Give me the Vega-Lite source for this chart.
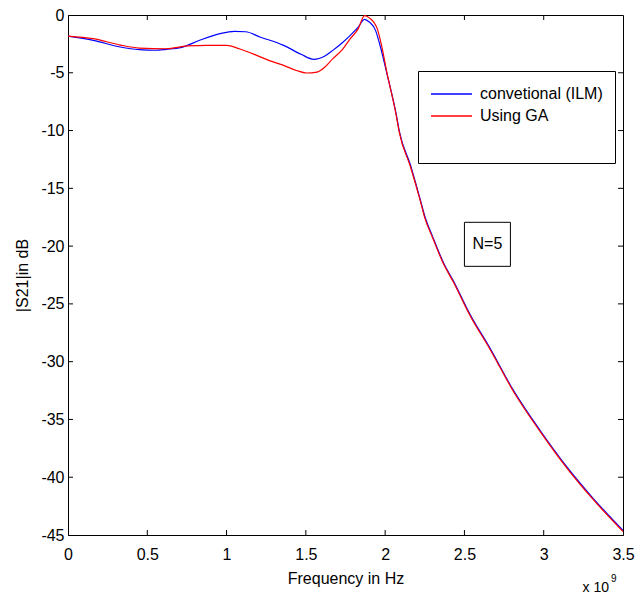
{
  "$schema": "https://vega.github.io/schema/vega-lite/v6.json",
  "autosize": {"type": "none"},
  "padding": {"left": 68, "top": 15, "right": 14, "bottom": 61},
  "width": 555,
  "height": 520,
  "background": "white",
  "config": {
    "font": "Liberation Sans",
    "view": {"stroke": "black", "strokeWidth": 1},
    "axis": {"grid": false, "domainColor": "black", "tickColor": "black", "labelColor": "black", "titleColor": "black", "labelFontSize": 16, "titleFontSize": 16, "titleFontWeight": "normal", "labelFont": "Liberation Sans", "titleFont": "Liberation Sans"}
  },
  "datasets": {
    "curves": [
      {"f": 0, "db": -1.82, "series": "convetional (ILM)"},
      {"f": 0.16, "db": -2.19, "series": "convetional (ILM)"},
      {"f": 0.33, "db": -2.77, "series": "convetional (ILM)"},
      {"f": 0.45, "db": -3.0, "series": "convetional (ILM)"},
      {"f": 0.55, "db": -3.05, "series": "convetional (ILM)"},
      {"f": 0.62, "db": -2.97, "series": "convetional (ILM)"},
      {"f": 0.71, "db": -2.83, "series": "convetional (ILM)"},
      {"f": 0.83, "db": -2.19, "series": "convetional (ILM)"},
      {"f": 0.96, "db": -1.61, "series": "convetional (ILM)"},
      {"f": 1.05, "db": -1.42, "series": "convetional (ILM)"},
      {"f": 1.12, "db": -1.45, "series": "convetional (ILM)"},
      {"f": 1.21, "db": -1.9, "series": "convetional (ILM)"},
      {"f": 1.36, "db": -2.63, "series": "convetional (ILM)"},
      {"f": 1.47, "db": -3.4, "series": "convetional (ILM)"},
      {"f": 1.55, "db": -3.84, "series": "convetional (ILM)"},
      {"f": 1.62, "db": -3.55, "series": "convetional (ILM)"},
      {"f": 1.67, "db": -3.06, "series": "convetional (ILM)"},
      {"f": 1.73, "db": -2.4, "series": "convetional (ILM)"},
      {"f": 1.78, "db": -1.76, "series": "convetional (ILM)"},
      {"f": 1.83, "db": -1.05, "series": "convetional (ILM)"},
      {"f": 1.87, "db": -0.37, "series": "convetional (ILM)"},
      {"f": 1.9, "db": -0.6, "series": "convetional (ILM)"},
      {"f": 1.94, "db": -1.35, "series": "convetional (ILM)"},
      {"f": 1.97, "db": -2.75, "series": "convetional (ILM)"},
      {"f": 2.01, "db": -5.0, "series": "convetional (ILM)"},
      {"f": 2.07, "db": -8.6, "series": "convetional (ILM)"},
      {"f": 2.09, "db": -10.1, "series": "convetional (ILM)"},
      {"f": 2.16, "db": -13.0, "series": "convetional (ILM)"},
      {"f": 2.22, "db": -15.9, "series": "convetional (ILM)"},
      {"f": 2.25, "db": -17.4, "series": "convetional (ILM)"},
      {"f": 2.3, "db": -19.2, "series": "convetional (ILM)"},
      {"f": 2.37, "db": -21.5, "series": "convetional (ILM)"},
      {"f": 2.43, "db": -23.0, "series": "convetional (ILM)"},
      {"f": 2.535, "db": -25.9, "series": "convetional (ILM)"},
      {"f": 2.66, "db": -28.8, "series": "convetional (ILM)"},
      {"f": 2.81, "db": -32.5, "series": "convetional (ILM)"},
      {"f": 2.98, "db": -36.0, "series": "convetional (ILM)"},
      {"f": 3.14, "db": -39.0, "series": "convetional (ILM)"},
      {"f": 3.31, "db": -41.8, "series": "convetional (ILM)"},
      {"f": 3.5, "db": -44.6, "series": "convetional (ILM)"},
      {"f": 0, "db": -1.82, "series": "Using GA"},
      {"f": 0.16, "db": -2.05, "series": "Using GA"},
      {"f": 0.33, "db": -2.6, "series": "Using GA"},
      {"f": 0.45, "db": -2.86, "series": "Using GA"},
      {"f": 0.62, "db": -2.92, "series": "Using GA"},
      {"f": 0.75, "db": -2.68, "series": "Using GA"},
      {"f": 0.88, "db": -2.63, "series": "Using GA"},
      {"f": 1.0, "db": -2.63, "series": "Using GA"},
      {"f": 1.08, "db": -2.92, "series": "Using GA"},
      {"f": 1.19, "db": -3.49, "series": "Using GA"},
      {"f": 1.27, "db": -3.95, "series": "Using GA"},
      {"f": 1.36, "db": -4.36, "series": "Using GA"},
      {"f": 1.44, "db": -4.8, "series": "Using GA"},
      {"f": 1.505, "db": -5.02, "series": "Using GA"},
      {"f": 1.57, "db": -4.94, "series": "Using GA"},
      {"f": 1.62, "db": -4.5, "series": "Using GA"},
      {"f": 1.67, "db": -3.78, "series": "Using GA"},
      {"f": 1.73, "db": -3.0, "series": "Using GA"},
      {"f": 1.78, "db": -2.05, "series": "Using GA"},
      {"f": 1.83, "db": -1.2, "series": "Using GA"},
      {"f": 1.87, "db": -0.05, "series": "Using GA"},
      {"f": 1.9, "db": -0.25, "series": "Using GA"},
      {"f": 1.95, "db": -1.18, "series": "Using GA"},
      {"f": 1.98, "db": -2.8, "series": "Using GA"},
      {"f": 2.01, "db": -4.9, "series": "Using GA"},
      {"f": 2.07, "db": -8.7, "series": "Using GA"},
      {"f": 2.09, "db": -10.2, "series": "Using GA"},
      {"f": 2.16, "db": -13.15, "series": "Using GA"},
      {"f": 2.22, "db": -16.0, "series": "Using GA"},
      {"f": 2.25, "db": -17.55, "series": "Using GA"},
      {"f": 2.3, "db": -19.3, "series": "Using GA"},
      {"f": 2.37, "db": -21.6, "series": "Using GA"},
      {"f": 2.43, "db": -23.1, "series": "Using GA"},
      {"f": 2.535, "db": -26.0, "series": "Using GA"},
      {"f": 2.66, "db": -28.9, "series": "Using GA"},
      {"f": 2.81, "db": -32.6, "series": "Using GA"},
      {"f": 2.98, "db": -36.1, "series": "Using GA"},
      {"f": 3.14, "db": -39.1, "series": "Using GA"},
      {"f": 3.31, "db": -41.9, "series": "Using GA"},
      {"f": 3.5, "db": -44.7, "series": "Using GA"}
    ],
    "note": [
      {"f": 2.5, "f2": 2.79, "db": -17.94, "db2": -21.75, "label": "N=5"}
    ],
    "exp": [
      {"f": 3.5, "db": -45, "base": "x 10", "power": "9"}
    ],
    "xt": [{"v": 0.5}, {"v": 1}, {"v": 1.5}, {"v": 2}, {"v": 2.5}, {"v": 3}],
    "yt": [{"v": -40}, {"v": -35}, {"v": -30}, {"v": -25}, {"v": -20}, {"v": -15}, {"v": -10}, {"v": -5}]
  },
  "layer": [
    {
      "data": {"name": "curves"},
      "mark": {"type": "line", "strokeWidth": 1.2, "interpolate": "monotone", "clip": true},
      "encoding": {
        "x": {
          "field": "f", "type": "quantitative",
          "scale": {"domain": [0, 3.5], "nice": false, "zero": false},
          "axis": {"orient": "bottom", "title": "Frequency in Hz", "values": [0, 0.5, 1, 1.5, 2, 2.5, 3, 3.5], "format": ".2~f", "ticks": false, "labelPadding": 11, "titlePadding": 8, "labelFlush": false}
        },
        "y": {
          "field": "db", "type": "quantitative",
          "scale": {"domain": [-45, 0], "nice": false, "zero": false},
          "axis": {"orient": "left", "title": "|S21|in dB", "values": [-45, -40, -35, -30, -25, -20, -15, -10, -5, 0], "labelExpr": "datum.value == 0 ? '0' : '-' + abs(datum.value)", "ticks": false, "labelPadding": 4, "titlePadding": 10, "labelFlush": false}
        },
        "color": {
          "field": "series", "type": "nominal",
          "scale": {"domain": ["convetional (ILM)", "Using GA"], "range": ["#0000ff", "#ff0000"]},
          "legend": {
            "orient": "none", "legendX": 350, "legendY": 56,
            "title": " ", "titleOrient": "bottom", "titlePadding": 8, "titleFontSize": 16,
            "strokeColor": "black", "fillColor": "white", "padding": 12,
            "symbolType": "stroke", "symbolSize": 1681, "symbolStrokeWidth": 1.5,
            "clipHeight": 22, "rowPadding": 0,
            "labelFontSize": 16, "labelColor": "black", "labelOffset": 7, "labelFont": "Liberation Sans"
          }
        }
      }
    },
    {
      "data": {"name": "xt"},
      "mark": {"type": "rule", "color": "black", "strokeWidth": 1},
      "encoding": {
        "x": {"field": "v", "type": "quantitative"},
        "y": {"datum": -45, "type": "quantitative"},
        "y2": {"datum": -44.57}
      }
    },
    {
      "data": {"name": "xt"},
      "mark": {"type": "rule", "color": "black", "strokeWidth": 1},
      "encoding": {
        "x": {"field": "v", "type": "quantitative"},
        "y": {"datum": 0, "type": "quantitative"},
        "y2": {"datum": -0.43}
      }
    },
    {
      "data": {"name": "yt"},
      "mark": {"type": "rule", "color": "black", "strokeWidth": 1},
      "encoding": {
        "y": {"field": "v", "type": "quantitative"},
        "x": {"datum": 0, "type": "quantitative"},
        "x2": {"datum": 0.0315}
      }
    },
    {
      "data": {"name": "yt"},
      "mark": {"type": "rule", "color": "black", "strokeWidth": 1},
      "encoding": {
        "y": {"field": "v", "type": "quantitative"},
        "x": {"datum": 3.5, "type": "quantitative"},
        "x2": {"datum": 3.4685}
      }
    },
    {
      "data": {"name": "note"},
      "mark": {"type": "rect", "fill": "white", "stroke": "black", "strokeWidth": 1},
      "encoding": {
        "x": {"field": "f", "type": "quantitative"},
        "x2": {"field": "f2"},
        "y": {"field": "db", "type": "quantitative"},
        "y2": {"field": "db2"}
      }
    },
    {
      "data": {"name": "note"},
      "transform": [{"calculate": "(datum.f + datum.f2) / 2", "as": "fm"}, {"calculate": "(datum.db + datum.db2) / 2", "as": "dm"}],
      "mark": {"type": "text", "fontSize": 16, "font": "Liberation Sans", "color": "black", "baseline": "middle", "align": "center"},
      "encoding": {
        "x": {"field": "fm", "type": "quantitative"},
        "y": {"field": "dm", "type": "quantitative"},
        "text": {"field": "label"}
      }
    },
    {
      "data": {"name": "exp"},
      "mark": {"type": "text", "fontSize": 14, "font": "Liberation Sans", "color": "black", "align": "right", "baseline": "alphabetic", "dx": -14, "dy": 57},
      "encoding": {
        "x": {"field": "f", "type": "quantitative"},
        "y": {"field": "db", "type": "quantitative"},
        "text": {"field": "base"}
      }
    },
    {
      "data": {"name": "exp"},
      "mark": {"type": "text", "fontSize": 10, "font": "Liberation Sans", "color": "black", "align": "left", "baseline": "alphabetic", "dx": -12, "dy": 47},
      "encoding": {
        "x": {"field": "f", "type": "quantitative"},
        "y": {"field": "db", "type": "quantitative"},
        "text": {"field": "power"}
      }
    }
  ]
}
